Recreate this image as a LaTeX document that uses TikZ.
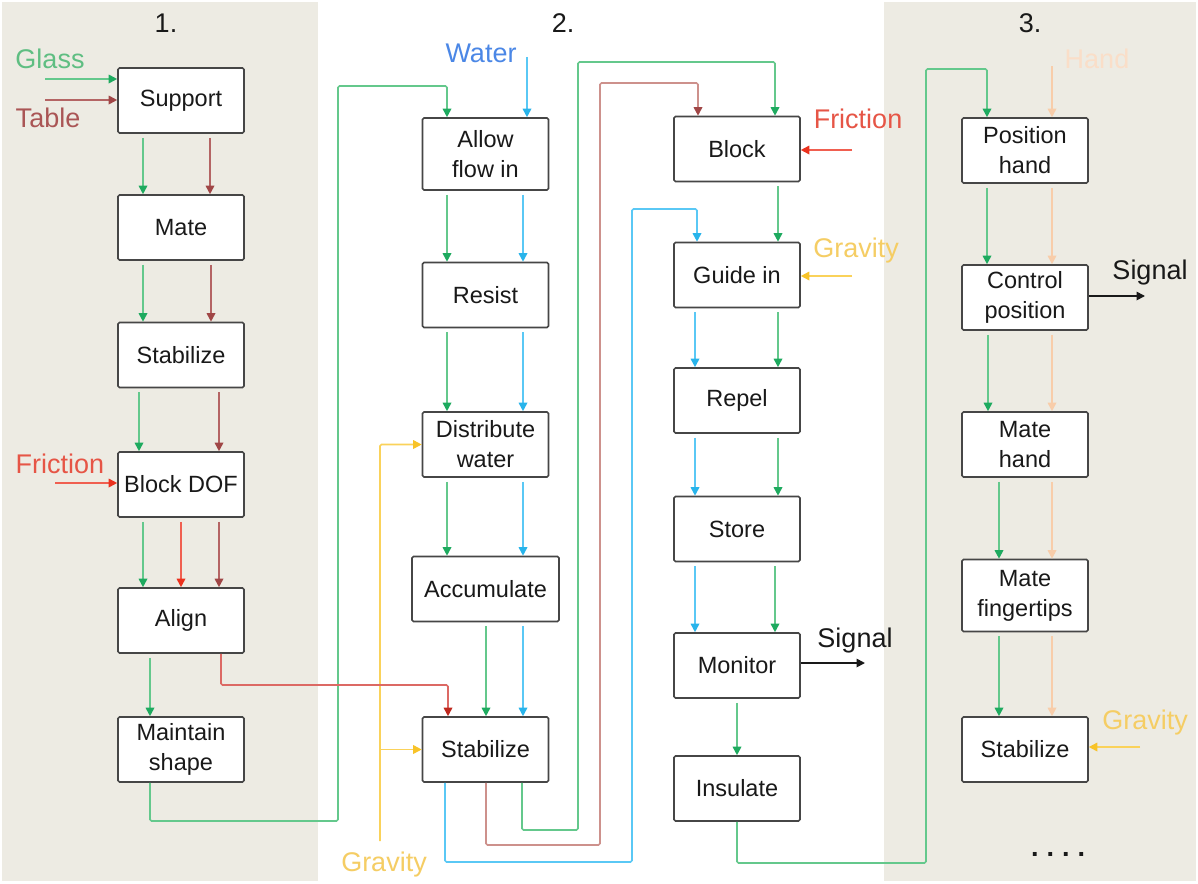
\documentclass[tikz,border=0pt]{standalone}
\usepackage{fontspec}
\setmainfont{Liberation Sans}
\usetikzlibrary{arrows.meta}
\definecolor{beige}{RGB}{237,235,227}
\definecolor{boxc}{RGB}{70,70,70}
\definecolor{txt}{RGB}{25,25,25}
\definecolor{glight}{RGB}{100,200,140}
\definecolor{gdark}{RGB}{30,170,95}
\definecolor{gtxt}{RGB}{95,190,130}
\definecolor{blight}{RGB}{180,100,100}
\definecolor{bdark}{RGB}{160,70,70}
\definecolor{btxt}{RGB}{170,85,85}
\definecolor{bbright}{RGB}{205,145,140}
\definecolor{rlight}{RGB}{240,95,80}
\definecolor{rdark}{RGB}{235,50,30}
\definecolor{rtxt}{RGB}{230,85,70}
\definecolor{alred}{RGB}{220,105,100}
\definecolor{aldark}{RGB}{190,40,30}
\definecolor{wlight}{RGB}{90,200,245}
\definecolor{wdark}{RGB}{40,180,235}
\definecolor{wtxt}{RGB}{75,135,230}
\definecolor{ylight}{RGB}{250,210,90}
\definecolor{ydark}{RGB}{248,195,40}
\definecolor{ytxt}{RGB}{245,205,100}
\definecolor{hlight}{RGB}{248,205,170}
\definecolor{htxt}{RGB}{250,222,200}
\newcommand\vflow[4]{\draw[#1,fl] (#2.south -| #4,0) -- (#3.north -| #4,0);}
\begin{document}
\begin{tikzpicture}[x=1pt,y=-1pt,
  box/.style={draw=boxc, fill=white, line width=1.6pt, rounded corners=1.5pt,
    minimum width=126pt, minimum height=65pt, inner sep=0pt, align=center,
    font=\fontsize{23.5}{30}\selectfont, text=txt},
  lbl/.style={font=\fontsize{27}{30}\selectfont, anchor=base, inner sep=0pt, text=txt},
  con/.style={line width=1.7pt, rounded corners=1.5pt},
  tip/.style={-{Triangle[length=8.5pt,width=8.5pt,color=#1]}},
  gA/.style={con, draw=glight, tip=gdark},
  bA/.style={con, draw=blight, tip=bdark},
  bbA/.style={con, draw=bbright, tip=bdark},
  rA/.style={con, draw=rlight, tip=rdark},
  alA/.style={con, draw=alred, tip=aldark},
  wA/.style={con, draw=wlight, tip=wdark},
  yA/.style={con, draw=ylight, tip=ydark},
  hA/.style={con, draw=hlight, tip=hlight},
  kA/.style={con, draw=txt, tip=txt},
  fl/.style={shorten <=4pt}]
\useasboundingbox (0,0) rectangle (1198,883);
\fill[white] (0,0) rectangle (1198,883);
\fill[beige] (2,2) rectangle (318,881);
\fill[beige] (884,2) rectangle (1196,881);

% headers
\node[lbl] (h1) at (166,33) {1.};
\node[lbl] (h2) at (563,33) {2.};
\node[lbl] (h3) at (1030,33) {3.};

% boxes column 1
\node[box] (sup) at (181,100.5) {Support};
\node[box] (mate) at (181,227.5) {Mate};
\node[box] (stabA) at (181,355) {Stabilize};
\node[box] (bdof) at (181,484.5) {Block DOF};
\node[box] (align) at (181,620.5) {Align};
\node[box] (mnt) at (181,749.5) {Maintain\\shape};
% column 2
\node[box, minimum height=72pt] (allow) at (485.5,154) {Allow\\flow in};
\node[box] (resist) at (485.5,295) {Resist};
\node[box] (dist) at (485.5,444.5) {Distribute\\water};
\node[box, minimum width=147pt] (accum) at (485.5,589) {Accumulate};
\node[box] (stabB) at (485.5,749.5) {Stabilize};
% column 2b
\node[box] (block) at (737,149) {Block};
\node[box] (guide) at (737,275) {Guide in};
\node[box] (repel) at (737,400.5) {Repel};
\node[box] (store) at (737,529) {Store};
\node[box] (mon) at (737,665.5) {Monitor};
\node[box] (ins) at (737,788.5) {Insulate};
% column 3
\node[box] (pos) at (1025,150.5) {Position\\hand};
\node[box] (ctrl) at (1025,297.5) {Control\\position};
\node[box] (mateh) at (1025,444.5) {Mate\\hand};
\node[box, minimum height=72pt] (matef) at (1025,595.5) {Mate\\fingertips};
\node[box] (stabC) at (1025,749.5) {Stabilize};

% labels
\node[lbl, text=gtxt] (glass) at (50,68) {Glass};
\node[lbl, text=btxt] (table) at (48,127) {Table};
\node[lbl, text=rtxt] (fric1) at (60,473) {Friction};
\node[lbl, text=wtxt] (water) at (481,63) {Water};
\node[lbl, text=rtxt] (fric2) at (858,128) {Friction};
\node[lbl, text=ytxt] (grav2) at (856,257) {Gravity};
\node[lbl, text=ytxt] (grav1) at (384,871) {Gravity};
\node[lbl, text=ytxt] (grav3) at (1145,729) {Gravity};
\node[lbl] (sig1) at (855,647) {Signal};
\node[lbl] (sig2) at (1150,279) {Signal};
\node[lbl, text=htxt] (hand) at (1097,68) {Hand};
\node[lbl, font=\fontsize{27}{30}\selectfont\bfseries] (dots) at (1058,856) {.\hspace{8pt}.\hspace{8pt}.\hspace{8pt}.};

% free ends
\coordinate (glassS) at (45,79);
\coordinate (tableS) at (45,100);
\coordinate (fric1S) at (55,483);
\coordinate (waterS) at (527,57);
\coordinate (fric2S) at (852,150);
\coordinate (grav2S) at (852,276);
\coordinate (gravS) at (380,841);
\coordinate (handS) at (1052,66);
\coordinate (grav3S) at (1140,747);
\coordinate (sig1E) at (865,663);
\coordinate (sig2E) at (1145,296);

% inputs / outputs
\draw[gA] (glassS) -- (glassS -| sup.west);
\draw[bA] (tableS) -- (tableS -| sup.west);
\draw[rA] (fric1S) -- (fric1S -| bdof.west);
\draw[wA] (waterS) -- (waterS |- allow.north);
\draw[rA] (fric2S) -- (fric2S -| block.east);
\draw[yA] (grav2S) -- (grav2S -| guide.east);
\draw[kA] (sig1E -| mon.east) -- (sig1E);
\draw[kA] (sig2E -| ctrl.east) -- (sig2E);
\draw[hA] (handS) -- (handS |- pos.north);
\draw[yA] (grav3S) -- (grav3S -| stabC.east);
\draw[yA] (gravS) |- (dist.west);
\draw[yA] (gravS |- stabB.west) -- (stabB.west);

% column 1 flows
\vflow{gA}{sup}{mate}{143}
\vflow{bA}{sup}{mate}{210}
\vflow{gA}{mate}{stabA}{143}
\vflow{bA}{mate}{stabA}{211}
\vflow{gA}{stabA}{bdof}{139}
\vflow{bA}{stabA}{bdof}{219}
\vflow{gA}{bdof}{align}{143}
\vflow{rA}{bdof}{align}{181}
\vflow{bA}{bdof}{align}{219}
\vflow{gA}{align}{mnt}{150}
% column 2 flows
\vflow{gA}{allow}{resist}{447}
\vflow{wA}{allow}{resist}{523}
\vflow{gA}{resist}{dist}{447}
\vflow{wA}{resist}{dist}{523}
\vflow{gA}{dist}{accum}{447}
\vflow{wA}{dist}{accum}{523}
\vflow{gA}{accum}{stabB}{486}
\vflow{wA}{accum}{stabB}{523}
% column 2b flows
\vflow{gA}{block}{guide}{778}
\vflow{wA}{guide}{repel}{695}
\vflow{gA}{guide}{repel}{778}
\vflow{wA}{repel}{store}{695}
\vflow{gA}{repel}{store}{778}
\vflow{wA}{store}{mon}{695}
\vflow{gA}{store}{mon}{775}
\vflow{gA}{mon}{ins}{737}
% column 3 flows
\vflow{gA}{pos}{ctrl}{987}
\vflow{hA}{pos}{ctrl}{1052}
\vflow{gA}{ctrl}{mateh}{988}
\vflow{hA}{ctrl}{mateh}{1052}
\vflow{gA}{mateh}{matef}{999}
\vflow{hA}{mateh}{matef}{1052}
\vflow{gA}{matef}{stabC}{999}
\vflow{hA}{matef}{stabC}{1052}

% long connectors
\draw[gA] (mnt.south -| 150,0) -- (150,821) -- (338,821) -- (338,86) -- (447,86) -- (allow.north -| 447,0);
\draw[alA] (align.south -| 221,0) -- (221,685) -- (448,685) -- (stabB.north -| 448,0);
\draw[gA] (stabB.south -| 522,0) -- (522,830) -- (578,830) -- (578,62) -- (775,62) -- (block.north -| 775,0);
\draw[bbA] (stabB.south -| 486,0) -- (486,845) -- (600,845) -- (600,83) -- (698,83) -- (block.north -| 698,0);
\draw[wA] (stabB.south -| 445,0) -- (445,862) -- (632,862) -- (632,209) -- (697,209) -- (guide.north -| 697,0);
\draw[gA] (ins.south -| 737,0) -- (737,863) -- (926,863) -- (926,69) -- (987,69) -- (pos.north -| 987,0);
\end{tikzpicture}
\end{document}
